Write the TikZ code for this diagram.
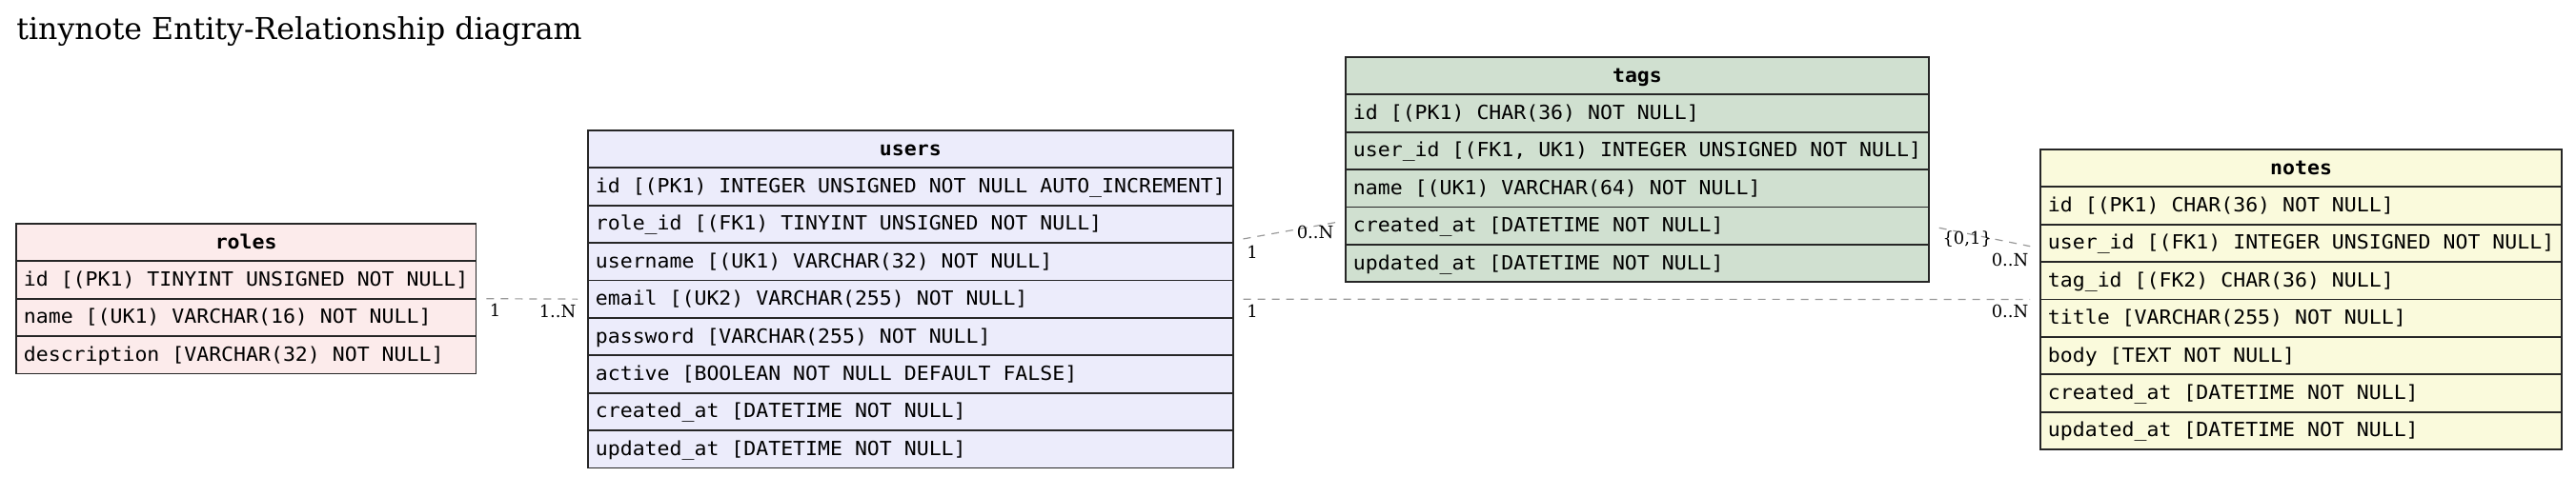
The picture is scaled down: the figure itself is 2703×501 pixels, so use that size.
\documentclass[tikz,border=0pt]{standalone}
\usepackage{fontspec}
\setmainfont{DejaVu Serif}
\setmonofont[FakeStretch=1.05]{DejaVu Sans Mono}
\usepackage{tikz}
\usetikzlibrary{shapes}
\definecolor{rolesfill}{HTML}{FCEBEB}
\definecolor{usersfill}{HTML}{ECECFB}
\definecolor{tagsfill}{HTML}{D0E0D0}
\definecolor{notesfill}{HTML}{FAFADC}
\newcommand{\rw}{\rule[-3.1pt]{0pt}{12.8pt}}
\tikzstyle{entity}=[rectangle split, rectangle split part align={center,left}, draw=black!85, line width=0.9pt, anchor=north west, inner xsep=4pt, inner ysep=3pt, font=\ttfamily\fontsize{10.25pt}{12pt}\selectfont]
\tikzstyle{rel}=[draw=black!40, line width=0.6pt, dash pattern=on 4pt off 3.5pt, shorten <=5pt, shorten >=5pt]
\tikzstyle{card}=[font=\fontsize{9pt}{10pt}\selectfont, inner sep=1pt]
\tikzstyle{tailcard}=[card, anchor=north west, xshift=5.5pt, yshift=-1.5pt]
\tikzstyle{headcard}=[card, anchor=north east, xshift=-4.5pt, yshift=-1.5pt]

\begin{document}
\begin{tikzpicture}[x=0.5pt, y=-0.5pt]
        \useasboundingbox (0,0) rectangle (2703,501);
        \node[anchor=base west, inner sep=0pt, font=\fontsize{15.8pt}{18pt}\selectfont] (title) at (17,42) {tinynote Entity-Relationship diagram};
        % tables
        \node[entity, rectangle split parts=4, fill=rolesfill, minimum width=241pt] (roles) at (16,234) {
            \rw\textbf{roles}
            \nodepart{two} \rw id [(PK1) TINYINT UNSIGNED NOT NULL]
            \nodepart{three} \rw name [(UK1) VARCHAR(16) NOT NULL]
            \nodepart{four} \rw description [VARCHAR(32) NOT NULL]
        };
        \node[entity, rectangle split parts=9, fill=usersfill, minimum width=338pt] (users) at (616,136) {
            \rw\textbf{users}
            \nodepart{two} \rw id [(PK1) INTEGER UNSIGNED NOT NULL AUTO\_INCREMENT]
            \nodepart{three} \rw role\_id [(FK1) TINYINT UNSIGNED NOT NULL]
            \nodepart{four} \rw username [(UK1) VARCHAR(32) NOT NULL]
            \nodepart{five} \rw email [(UK2) VARCHAR(255) NOT NULL]
            \nodepart{six} \rw password [VARCHAR(255) NOT NULL]
            \nodepart{seven} \rw active [BOOLEAN NOT NULL DEFAULT FALSE]
            \nodepart{eight} \rw created\_at [DATETIME NOT NULL]
            \nodepart{nine} \rw updated\_at [DATETIME NOT NULL]
        };
        \node[entity, rectangle split parts=6, fill=tagsfill, minimum width=305.5pt] (tags) at (1411,59) {
            \rw\textbf{tags}
            \nodepart{two} \rw id [(PK1) CHAR(36) NOT NULL]
            \nodepart{three} \rw user\_id [(FK1, UK1) INTEGER UNSIGNED NOT NULL]
            \nodepart{four} \rw name [(UK1) VARCHAR(64) NOT NULL]
            \nodepart{five} \rw created\_at [DATETIME NOT NULL]
            \nodepart{six} \rw updated\_at [DATETIME NOT NULL]
        };
        \node[entity, rectangle split parts=8, fill=notesfill, minimum width=273.5pt] (notes) at (2140,156) {
            \rw\textbf{notes}
            \nodepart{two} \rw id [(PK1) CHAR(36) NOT NULL]
            \nodepart{three} \rw user\_id [(FK1) INTEGER UNSIGNED NOT NULL]
            \nodepart{four} \rw tag\_id [(FK2) CHAR(36) NULL]
            \nodepart{five} \rw title [VARCHAR(255) NOT NULL]
            \nodepart{six} \rw body [TEXT NOT NULL]
            \nodepart{seven} \rw created\_at [DATETIME NOT NULL]
            \nodepart{eight} \rw updated\_at [DATETIME NOT NULL]
        };
        % relations
        \draw[rel] (roles.east) -- (users.west)
            node[pos=0, tailcard] {1} node[pos=1, headcard] {1..N};
        \draw[rel] ([yshift=30.75pt]users.east) -- ([yshift=-26.9pt]tags.west)
            node[pos=0, tailcard] {1} node[pos=1, headcard] {0..N};
        \draw[rel] ([yshift=-29.6pt]tags.east) -- ([yshift=26.9pt]notes.west)
            node[pos=0, tailcard] {\{0,1\}} node[pos=1, headcard] {0..N};
        \draw[rel] (users.east) -- (notes.west)
            node[pos=0, tailcard] {1} node[pos=1, headcard] {0..N};
\end{tikzpicture}
\end{document}
